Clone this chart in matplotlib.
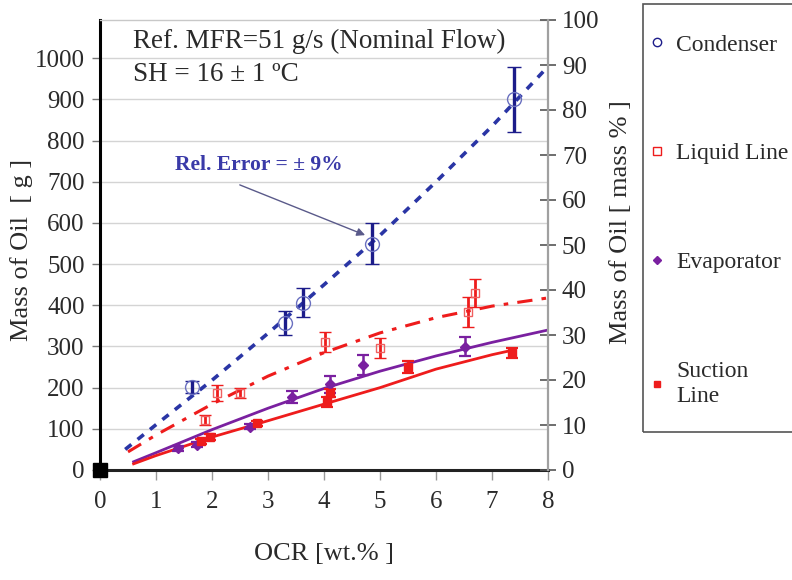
import matplotlib
matplotlib.use("Agg")
import matplotlib.pyplot as plt
from matplotlib.lines import Line2D
from matplotlib.patches import Rectangle

plt.rcParams['font.family'] = ['Liberation Serif', 'DejaVu Serif']

# measured points  (OCR wt.%, mass of oil g, error g)
cond_x = [1.65, 3.3, 3.63, 4.86, 7.39]
cond_y = [202, 357, 406, 550, 900]
cond_err = [15, 30, 35, 50, 80]

liq_x = [1.88, 2.09, 2.5, 4.02, 5.0, 6.57, 6.7]
liq_y = [122, 187, 187, 311, 296, 384, 430]
liq_err = [12, 20, 12, 25, 25, 36, 35]

evap_x = [1.4, 1.73, 2.68, 3.43, 4.1, 4.7, 6.52]
evap_y = [53, 61, 105, 178, 208, 255, 299]
evap_err = [6, 6, 6, 15, 20, 25, 23]

suc_x = [1.8, 1.96, 2.8, 4.05, 4.1, 5.5, 7.36]
suc_y = [70, 80, 114, 165, 187, 250, 284]
suc_err = [6, 8, 6, 12, 10, 15, 12]

# trend lines
cond_fx = [0.45, 1, 2, 3, 4, 5, 6, 7, 8]
cond_fy = [50, 110, 218, 332, 450, 570, 700, 835, 980]
liq_fx = [0.5, 1, 2, 3, 4, 5, 6, 7, 8]
liq_fy = [44, 85, 160, 228, 285, 333, 370, 398, 418]
evap_fx = [0.6, 1, 2, 3, 4, 5, 6, 7, 8]
evap_fy = [20, 42, 98, 150, 198, 240, 277, 310, 340]
suc_fx = [0.6, 1, 2, 2.86, 4, 5, 6, 7, 7.4]
suc_fy = [15, 35, 80, 114, 160, 200, 245, 280, 292]

blue = '#2a35a5'
navy = '#1c1c8a'
red = '#ee1c1c'
purple = '#7a20a0'
txt = '#2a2a2a'

fig = plt.figure(figsize=(7.92, 5.80), dpi=100)
ax = fig.add_axes([100 / 792, 110 / 580, 448 / 792, 450 / 580])

ax.plot(cond_fx, cond_fy, color=blue, lw=2.6, ls=(0, (2.2, 2.2)), zorder=2)
ax.plot(liq_fx, liq_fy, color=red, lw=2.2, ls=(0, (5, 3, 1.5, 3)), zorder=2)
ax.plot(evap_fx, evap_fy, color=purple, lw=2.0, zorder=2)
ax.plot(suc_fx, suc_fy, color=red, lw=2.0, zorder=2)

ax.errorbar(cond_x, cond_y, yerr=cond_err, fmt='o', ms=10, mfc='none', mec='#6a70c0',
            mew=1.0, ecolor=navy, elinewidth=2.4, capsize=5, capthick=2.2, zorder=3)
ax.errorbar(liq_x, liq_y, yerr=liq_err, fmt='s', ms=6, mfc='none', mec='#f06060',
            mew=1.0, ecolor=red, elinewidth=2.0, capsize=4, capthick=1.8, zorder=3)
ax.errorbar(evap_x, evap_y, yerr=evap_err, fmt='D', ms=5, color=purple,
            ecolor=purple, elinewidth=1.8, capsize=4, capthick=1.6, zorder=3)
ax.errorbar(suc_x, suc_y, yerr=suc_err, fmt='s', ms=6, color=red,
            ecolor=red, elinewidth=1.8, capsize=4, capthick=1.6, zorder=3)

ax.plot([0], [0], 's', color='black', ms=10, clip_on=False, zorder=5)

ax.set_xlim(0, 8)
ax.set_ylim(0, 1093)
ax.set_xticks(range(0, 9))
ax.set_yticks(range(0, 1001, 100))
ax.yaxis.grid(True, color='#d4d4d4', lw=1.0)
ax.set_axisbelow(True)

ax.spines['left'].set_linewidth(2.2)
ax.spines['left'].set_color('black')
ax.spines['bottom'].set_linewidth(2.2)
ax.spines['bottom'].set_color('#222222')
ax.spines['top'].set_color('#c8c8c8')
ax.spines['top'].set_linewidth(1.0)
ax.spines['right'].set_visible(False)

ax.tick_params(axis='y', direction='out', length=6, width=1, color='#777777',
               labelsize=18, labelcolor=txt, pad=5)
ax.tick_params(axis='x', direction='out', length=7, width=1, color='#999999',
               labelsize=18, labelcolor=txt, pad=8)

ax.set_xlabel('OCR [wt.% ]', fontsize=19, color=txt, labelpad=22)
ax.set_ylabel('Mass of Oil  [ g ]', fontsize=19, color=txt)
ax.yaxis.set_label_coords(-67 / 448, 0.49)

ax2 = ax.twinx()
ax2.set_ylim(0, 100)
ax2.set_yticks(range(0, 101, 10))
for s in ['left', 'top', 'bottom']:
    ax2.spines[s].set_visible(False)
ax2.spines['right'].set_color('#a0a0a0')
ax2.spines['right'].set_linewidth(1.6)
ax2.tick_params(axis='y', direction='inout', length=12, width=1.2, color='#555555',
                labelsize=18, labelcolor=txt, pad=4)
ax2.set_ylabel('Mass of Oil [ mass % ]', fontsize=19, color=txt)
ax2.yaxis.set_label_coords(1 + 62 / 448, 0.55)

ax.text(0.59, 1040, 'Ref. MFR=51 g/s (Nominal Flow)', fontsize=19.5, color=txt,
        ha='left', va='center')
ax.text(0.59, 960, 'SH = 16 \u00b1 1 \u00baC', fontsize=19.5, color=txt,
        ha='left', va='center')
ax.text(1.34, 740, 'Rel. Error = \u00b1 9%', fontsize=15.5, fontweight='bold',
        color='#3a3aa8', ha='left', va='center')
ax.annotate('', xy=(4.78, 568), xytext=(2.45, 695),
            arrowprops=dict(arrowstyle='-|>', color='#5a5a8a', lw=1.0,
                            mutation_scale=12))

# legend box
fig.patches.append(Rectangle((643 / 792, 148 / 580), 0.3, 428 / 580,
                             transform=fig.transFigure, fill=False,
                             edgecolor='#555555', lw=1.2))
handles = [
    Line2D([], [], ls='none', marker='o', ms=6, mfc='none', mec=navy, mew=1.0),
    Line2D([], [], ls='none', marker='s', ms=6, mfc='none', mec=red, mew=1.0),
    Line2D([], [], ls='none', marker='D', ms=4.5, color=purple),
    Line2D([], [], ls='none', marker='s', ms=5, color=red),
]
labels = ['Condenser', 'Liquid Line', 'Evaporator', 'Suction\nLine']
leg = fig.legend(handles, labels, loc='upper left',
                 bbox_to_anchor=(649 / 792, (580 - 34) / 580),
                 frameon=False, fontsize=17, labelspacing=3.7,
                 handlelength=0.7, handletextpad=0.45, borderpad=0,
                 borderaxespad=0)
for t in leg.get_texts():
    t.set_color(txt)
    t.set_linespacing(1.3)

fig.savefig('out.png', dpi=100)
